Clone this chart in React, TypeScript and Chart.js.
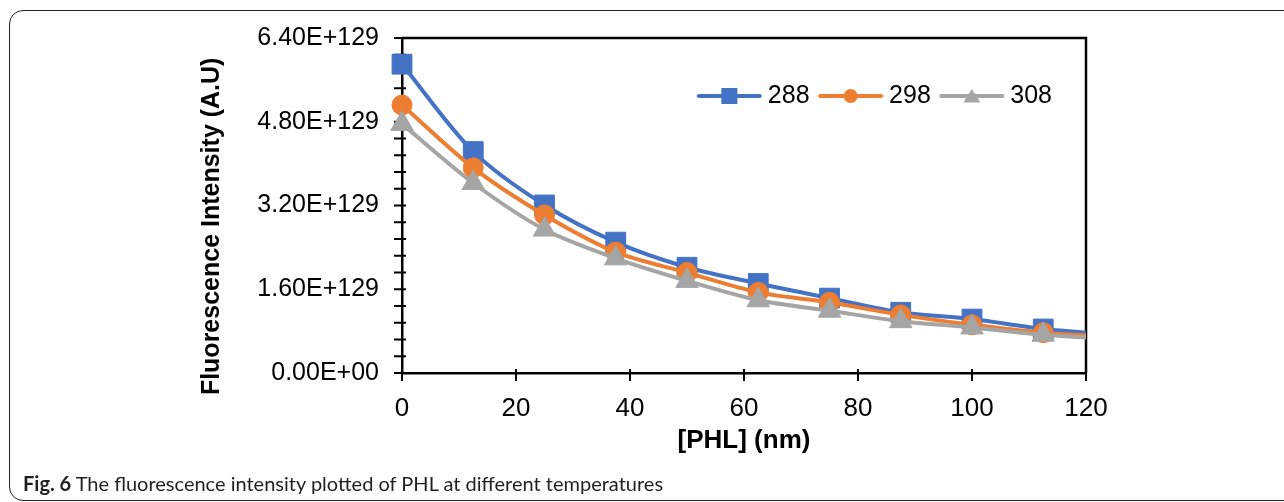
import React, { useEffect, useRef } from 'react';
import { Chart, registerables } from 'chart.js';

Chart.register(...registerables);

// ---- data (intensity in A.U.) ----
const concentrations = [0, 12.5, 25, 37.5, 50, 62.5, 75, 87.5, 100, 112.5, 125];
const series288 = [5.90e129, 4.23e129, 3.21e129, 2.50e129, 2.02e129, 1.71e129, 1.43e129, 1.16e129, 1.03e129, 0.84e129, 0.73e129];
const series298 = [5.12e129, 3.92e129, 3.02e129, 2.31e129, 1.92e129, 1.54e129, 1.35e129, 1.11e129, 0.92e129, 0.77e129, 0.69e129];
const series308 = [4.76e129, 3.63e129, 2.74e129, 2.19e129, 1.76e129, 1.39e129, 1.19e129, 0.99e129, 0.87e129, 0.73e129, 0.65e129];
const seriesLabels = ['288', '298', '308'];
const xTickValues = [0, 20, 40, 60, 80, 100, 120];
const yTickValues = [0, 1.6e129, 3.2e129, 4.8e129, 6.4e129];
const yMinorPerMajor = 5;

const COLORS = ['#4472C4', '#ED7D31', '#A5A5A5'];
const STYLES = ['rect', 'circle', 'triangle'];
const RADII = [14, 10, 13];

const SANS = "'Liberation Sans', Arial, sans-serif";

function sci(v: number): string {
  if (v === 0) return '0.00E+00';
  const e = Math.floor(Math.log10(Math.abs(v)) + 1e-9);
  const m = v / Math.pow(10, e);
  return m.toFixed(2) + 'E+' + (e < 10 ? '0' + e : String(e));
}

function makeGlyph(color: string, style: string): HTMLCanvasElement {
  const c = document.createElement('canvas');
  c.width = 66;
  c.height = 22;
  const g = c.getContext('2d')!;
  g.strokeStyle = color;
  g.fillStyle = color;
  g.lineWidth = 4;
  g.lineCap = 'round';
  g.beginPath();
  g.moveTo(2.5, 11);
  g.lineTo(63.5, 11);
  g.stroke();
  g.beginPath();
  if (style === 'rect') {
    g.rect(33 - 8, 11 - 8, 16, 16);
  } else if (style === 'circle') {
    g.arc(33, 11, 7, 0, Math.PI * 2);
  } else {
    g.moveTo(33, 4);
    g.lineTo(41.5, 17.5);
    g.lineTo(24.5, 17.5);
    g.closePath();
  }
  g.fill();
  return c;
}

const axisDecor = {
  id: 'axisDecor',
  beforeDatasetsDraw(chart: any) {
    const { ctx, chartArea: a, scales } = chart;
    const xs = scales.x;
    const ys = scales.y;
    ctx.save();
    ctx.strokeStyle = '#000';
    ctx.lineWidth = 2.5;
    ctx.beginPath();
    ctx.moveTo(a.left, a.top);
    ctx.lineTo(a.right, a.top);
    ctx.lineTo(a.right, a.bottom);
    ctx.stroke();
    ctx.lineWidth = 2;
    ctx.beginPath();
    for (let i = 0; i < yTickValues.length; i++) {
      const py = ys.getPixelForValue(yTickValues[i]);
      ctx.moveTo(a.left - 8, py);
      ctx.lineTo(a.left + 4, py);
      if (i < yTickValues.length - 1) {
        const step = (yTickValues[i + 1] - yTickValues[i]) / yMinorPerMajor;
        for (let k = 1; k < yMinorPerMajor; k++) {
          const pm = ys.getPixelForValue(yTickValues[i] + step * k);
          ctx.moveTo(a.left - 8, pm);
          ctx.lineTo(a.left + 4, pm);
        }
      }
    }
    for (const v of xTickValues) {
      const px = xs.getPixelForValue(v);
      ctx.moveTo(px, a.bottom - 4);
      ctx.lineTo(px, a.bottom + 8);
    }
    ctx.stroke();
    ctx.restore();
  },
};

const legendPlace = {
  id: 'legendPlace',
  afterLayout(chart: any) {
    const lg = chart.legend;
    if (!lg) return;
    const a = chart.chartArea;
    lg.left = a.left;
    lg.right = a.right - 19;
    lg.top = a.top + 30.5;
    lg.bottom = lg.top + 60;
    lg.width = lg.right - lg.left;
    lg.height = 60;
  },
};

export default function App() {
  const ref = useRef<HTMLCanvasElement | null>(null);

  useEffect(() => {
    const canvas = ref.current;
    if (!canvas) return;
    const seriesList = [series288, series298, series308];
    const glyphs = COLORS.map((c, i) => makeGlyph(c, STYLES[i]));
    const datasets = seriesList.map((s, i) => ({
      label: seriesLabels[i],
      data: concentrations.map((x, j) => ({ x, y: s[j] })),
      borderColor: COLORS[i],
      backgroundColor: COLORS[i],
      pointBackgroundColor: COLORS[i],
      pointBorderColor: COLORS[i],
      pointStyle: STYLES[i],
      pointRadius: RADII[i],
      pointBorderWidth: 1,
      borderWidth: 4,
      tension: 0.3,
      order: 3 - i,
      clip: { left: false, top: false, right: 0, bottom: false },
    }));

    const chart = new Chart(canvas, {
      type: 'line',
      data: { datasets } as any,
      options: {
        responsive: false,
        animation: false,
        devicePixelRatio: 1,
        layout: { padding: { left: 0, top: 36, right: 198, bottom: 0 } },
        scales: {
          x: {
            type: 'linear',
            min: 0,
            max: 120,
            afterBuildTicks: (s: any) => {
              s.ticks = xTickValues.map((v) => ({ value: v }));
            },
            afterFit: (s: any) => {
              s.height = 129;
            },
            grid: { display: false, drawTicks: false },
            border: { display: true, color: '#000', width: 2.5 },
            ticks: {
              color: '#000',
              padding: 20,
              autoSkip: false,
              maxRotation: 0,
              font: { family: SANS, size: 26 },
            },
            title: {
              display: true,
              text: '[PHL] (nm)',
              color: '#000',
              font: { family: SANS, size: 26, weight: 'bold' },
              padding: { top: 0, bottom: 46 },
            },
          },
          y: {
            type: 'linear',
            min: 0,
            max: 6.4e129,
            afterBuildTicks: (s: any) => {
              s.ticks = yTickValues.map((v) => ({ value: v }));
            },
            afterFit: (s: any) => {
              s.width = 402;
            },
            grid: { display: false, drawTicks: false },
            border: { display: true, color: '#000', width: 2.5 },
            ticks: {
              color: '#000',
              padding: 23,
              autoSkip: false,
              font: { family: SANS, size: 25 },
              callback: (v: any) => sci(Number(v)),
            },
            title: {
              display: true,
              text: 'Fluorescence Intensity (A.U)      ',
              color: '#000',
              font: { family: SANS, size: 25, weight: 'bold' },
              padding: { top: 197, bottom: 0 },
            },
          },
        },
        plugins: {
          tooltip: { enabled: false },
          legend: {
            display: true,
            position: 'top',
            align: 'end',
            maxHeight: 1,
            labels: {
              usePointStyle: true,
              pointStyleWidth: 52,
              padding: 15,
              color: '#000',
              font: { family: SANS, size: 25 },
              generateLabels: (ch: any) => {
                const items = (Chart as any).defaults.plugins.legend.labels.generateLabels(ch);
                items.sort((p: any, q: any) => p.datasetIndex - q.datasetIndex);
                return items.map((it: any) => ({ ...it, pointStyle: glyphs[it.datasetIndex] }));
              },
            },
          },
        },
      } as any,
      plugins: [axisDecor, legendPlace],
    });
    return () => chart.destroy();
  }, []);

  return (
    <div
      style={{
        position: 'fixed',
        left: 0,
        top: 0,
        width: 1284,
        height: 502,
        overflow: 'hidden',
        background: '#fff',
      }}
    >
      <div
        style={{
          position: 'absolute',
          left: 9,
          top: 10,
          width: 1320,
          height: 489,
          border: '1.5px solid #231f20',
          borderRadius: 14,
        }}
      />
      <canvas
        ref={ref}
        width={1284}
        height={502}
        style={{ position: 'absolute', left: 0, top: 0, width: 1284, height: 502 }}
      />
      <div
        style={{
          position: 'absolute',
          left: 23,
          top: 473,
          fontFamily: "Lato, 'Open Sans', sans-serif",
          fontSize: 20,
          lineHeight: '20px',
          color: '#231f20',
          whiteSpace: 'nowrap',
        }}
      >
        <b>Fig. 6</b> The fluorescence intensity plotted of PHL at different temperatures
      </div>
    </div>
  );
}
